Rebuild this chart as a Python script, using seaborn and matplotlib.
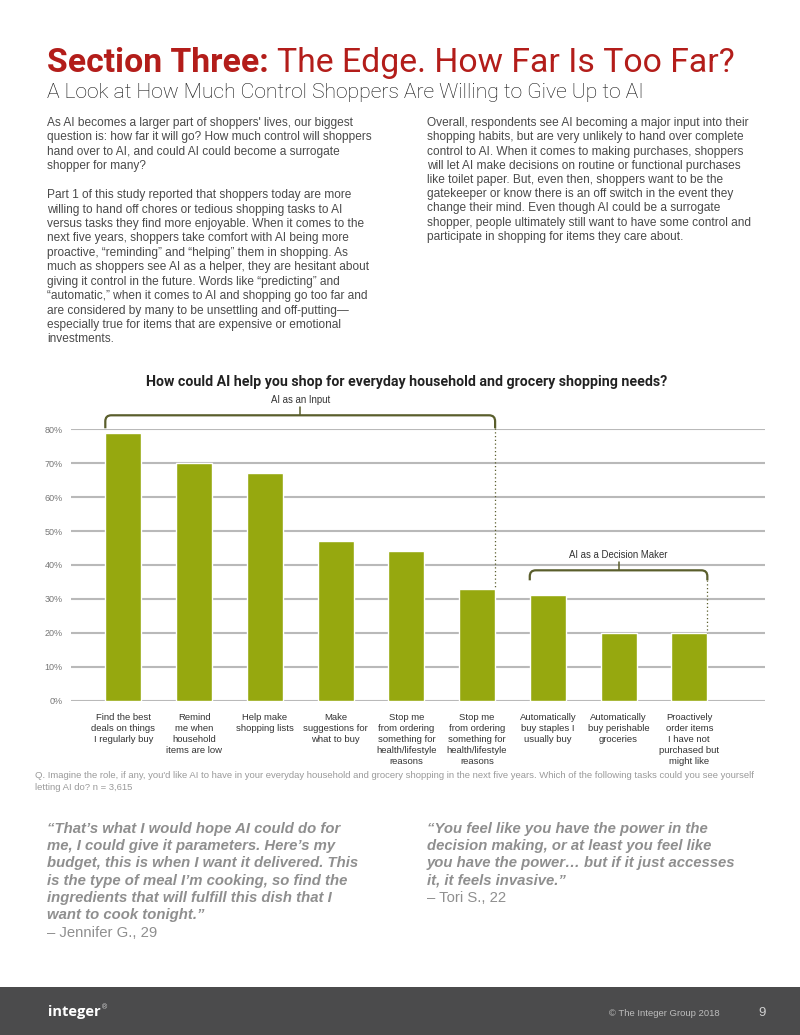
import matplotlib
matplotlib.use("Agg")
import matplotlib.pyplot as plt
from matplotlib.path import Path
from matplotlib.patches import PathPatch, Rectangle
import pandas as pd
import seaborn as sns

# data
tasks = ["Find the best\ndeals on things\nI regularly buy",
         "Remind\nme when\nhousehold\nitems are low",
         "Help make\nshopping lists",
         "Make\nsuggestions for\nwhat to buy",
         "Stop me\nfrom ordering\nsomething for\nhealth/lifestyle\nreasons",
         "Stop me\nfrom ordering\nsomething for\nhealth/lifestyle\nreasons ",
         "Automatically\nbuy staples I\nusually buy",
         "Automatically\nbuy perishable\ngroceries",
         "Proactively\norder items\nI have not\npurchased but\nmight like"]
share = [0.79, 0.70, 0.67, 0.47, 0.44, 0.33, 0.31, 0.20, 0.20]
yticks = [0, 0.1, 0.2, 0.3, 0.4, 0.5, 0.6, 0.7, 0.8]
groups = [("AI as an Input", 0, 5), ("AI as a Decision Maker", 6, 8)]

df = pd.DataFrame({"task": tasks, "share": share})

sns.set_theme(style="white")
plt.rcParams["font.family"] = ["Liberation Sans", "DejaVu Sans"]

BAR = "#96a80f"
BRK = "#5a5e2c"
RED = "#b31d1a"
GRID = "#b9b9b9"

fig = plt.figure(figsize=(8, 10.35), dpi=100)
W, H = 800, 1035


def fx(x):
    return x / W


def fy(y):
    return 1 - y / H


# header
r = fig.canvas.get_renderer()
t1 = fig.text(fx(47), fy(72), "Section Three:", color=RED, fontsize=24.3,
              fontweight="bold", family="Roboto", va="baseline")
bb = t1.get_window_extent(renderer=r)
fig.text(bb.x1 / W + fx(8), fy(72), "The Edge. How Far Is Too Far?", color=RED,
         fontsize=24.3, family="Roboto", va="baseline")
fig.text(fx(47), fy(98), "A Look at How Much Control Shoppers Are Willing to Give Up to AI",
         color="#111111", fontsize=15.2, family="Roboto", fontweight="light", va="baseline")

left_col = ("As AI becomes a larger part of shoppers' lives, our biggest\n"
            "question is: how far it will go? How much control will shoppers\n"
            "hand over to AI, and could AI could become a surrogate\n"
            "shopper for many?\n"
            "\n"
            "Part 1 of this study reported that shoppers today are more\n"
            "willing to hand off chores or tedious shopping tasks to AI\n"
            "versus tasks they find more enjoyable. When it comes to the\n"
            "next five years, shoppers take comfort with AI being more\n"
            "proactive, \u201creminding\u201d and \u201chelping\u201d them in shopping. As\n"
            "much as shoppers see AI as a helper, they are hesitant about\n"
            "giving it control in the future. Words like \u201cpredicting\u201d and\n"
            "\u201cautomatic,\u201d when it comes to AI and shopping go too far and\n"
            "are considered by many to be unsettling and off-putting\u2014\n"
            "especially true for items that are expensive or emotional\n"
            "investments.")
right_col = ("Overall, respondents see AI becoming a major input into their\n"
             "shopping habits, but are very unlikely to hand over complete\n"
             "control to AI. When it comes to making purchases, shoppers\n"
             "will let AI make decisions on routine or functional purchases\n"
             "like toilet paper. But, even then, shoppers want to be the\n"
             "gatekeeper or know there is an off switch in the event they\n"
             "change their mind. Even though AI could be a surrogate\n"
             "shopper, people ultimately still want to have some control and\n"
             "participate in shopping for items they care about.")
fig.text(fx(47), fy(117), left_col, fontsize=8.6, color="#4a4a4a", va="top",
         linespacing=1.27)
fig.text(fx(427), fy(117), right_col, fontsize=8.6, color="#4a4a4a", va="top",
         linespacing=1.25)

# chart
fig.text(fx(407), fy(386), "How could AI help you shop for everyday household and grocery shopping needs?",
         ha="center", va="baseline", fontsize=10.2, fontweight="bold", family="Roboto",
         color="#222222")

ax = fig.add_axes([fx(71), fy(700.5), fx(765 - 71), (700.5 - 429.3) / H])
sns.barplot(data=df, x="task", y="share", color=BAR, width=0.51, saturation=1,
            ax=ax, zorder=3)
ax.set_xlim(-0.74, 9.07)
ax.set_ylim(0, 0.8)
ax.set_yticks(yticks)
ax.set_yticklabels([f"{int(round(v * 100))}%" for v in yticks], fontsize=6.5,
                   color="#777777")
ax.yaxis.grid(True, color=GRID, linewidth=1.5, zorder=0)
ax.set_axisbelow(True)
for s in ax.spines.values():
    s.set_visible(False)
ax.tick_params(axis="both", length=0)
ax.tick_params(axis="y", pad=6)
ax.set_xlabel("")
ax.set_ylabel("")
ax.set_xticks(range(len(tasks)))
ax.set_xticklabels([t.strip() for t in tasks], fontsize=6.8, color="#333333",
                   linespacing=1.3, va="top")
ax.tick_params(axis="x", pad=9)

# brackets
hw = 0.51 / 2
px = 0.8 / (700.5 - 429.3)  # data units per pixel (y)
pxx = 1 / 70.75
for name, a, b in groups:
    x0, x1 = a - hw, b + hw
    ytop = 0.80 + 14 * px if a == 0 else 0.384
    drop = 13 * px if a == 0 else 10 * px
    rx, ry = 6 * pxx, 6 * px
    verts = [(x0, ytop - drop), (x0, ytop - ry), (x0, ytop), (x0 + rx, ytop),
             (x1 - rx, ytop), (x1, ytop), (x1, ytop - ry), (x1, ytop - drop)]
    codes = [Path.MOVETO, Path.LINETO, Path.CURVE3, Path.CURVE3,
             Path.LINETO, Path.CURVE3, Path.CURVE3, Path.LINETO]
    ax.add_patch(PathPatch(Path(verts, codes), fill=False, edgecolor=BRK,
                           linewidth=1.6, clip_on=False, zorder=5))
    xm = (x0 + x1) / 2
    ax.plot([xm, xm], [ytop, ytop + 8 * px], color=BRK, linewidth=1.1,
            clip_on=False, zorder=5)
    ax.text(xm, ytop + 10 * px, name, ha="center", va="bottom", fontsize=6.9,
            color="#333333", clip_on=False)
    ax.plot([x1, x1], [ytop - drop, share[b]], color=BRK, linewidth=0.9,
            linestyle=(0, (1, 2)), clip_on=False, zorder=5)

fig.text(fx(35), fy(771),
         "Q. Imagine the role, if any, you'd like AI to have in your everyday household and grocery "
         "shopping in the next five years. Which of the following tasks could you see yourself\n"
         "letting AI do? n = 3,615", fontsize=6.8, color="#9a9a9a",
         va="top", linespacing=1.45)

# quotes
QC = "#8f8f8f"
q1 = ("\u201cThat\u2019s what I would hope AI could do for\n"
      "me, I could give it parameters. Here\u2019s my\n"
      "budget, this is when I want it delivered. This\n"
      "is the type of meal I\u2019m cooking, so find the\n"
      "ingredients that will fulfill this dish that I\n"
      "want to cook tonight.\u201d")
q2 = ("\u201cYou feel like you have the power in the\n"
      "decision making, or at least you feel like\n"
      "you have the power\u2026 but if it just accesses\n"
      "it, it feels invasive.\u201d")
fig.text(fx(47), fy(822), q1, fontsize=10.7, color=QC, fontweight="bold",
         style="italic", va="top", linespacing=1.29)
fig.text(fx(47), fy(926), "\u2013 Jennifer G., 29", fontsize=10.7, color=QC,
         va="top")
fig.text(fx(427), fy(822), q2, fontsize=10.7, color=QC, fontweight="bold",
         style="italic", va="top", linespacing=1.29)
fig.text(fx(427), fy(891), "\u2013 Tori S., 22", fontsize=10.7, color=QC,
         va="top")

# footer
fig.patches.append(Rectangle((0, 0), 1, fy(987), transform=fig.transFigure,
                             facecolor="#4b4b4c", edgecolor="none", zorder=0))
t2 = fig.text(fx(48), fy(1016), "integer", fontsize=10.5, color="white", fontweight="bold",
              family="Open Sans", va="baseline")
bb2 = t2.get_window_extent(renderer=r)
fig.text(bb2.x1 / W + fx(1), fy(1009), "\u00ae", fontsize=5, color="#dddddd", va="baseline")
fig.text(fx(720), fy(1016), "\u00a9 The Integer Group 2018", fontsize=6.8, color="#bdbdbd",
         ha="right", va="baseline")
fig.text(fx(758), fy(1016), "9", fontsize=9.5, color="#d0d0d0", va="baseline")

fig.savefig("out.png", dpi=100)
